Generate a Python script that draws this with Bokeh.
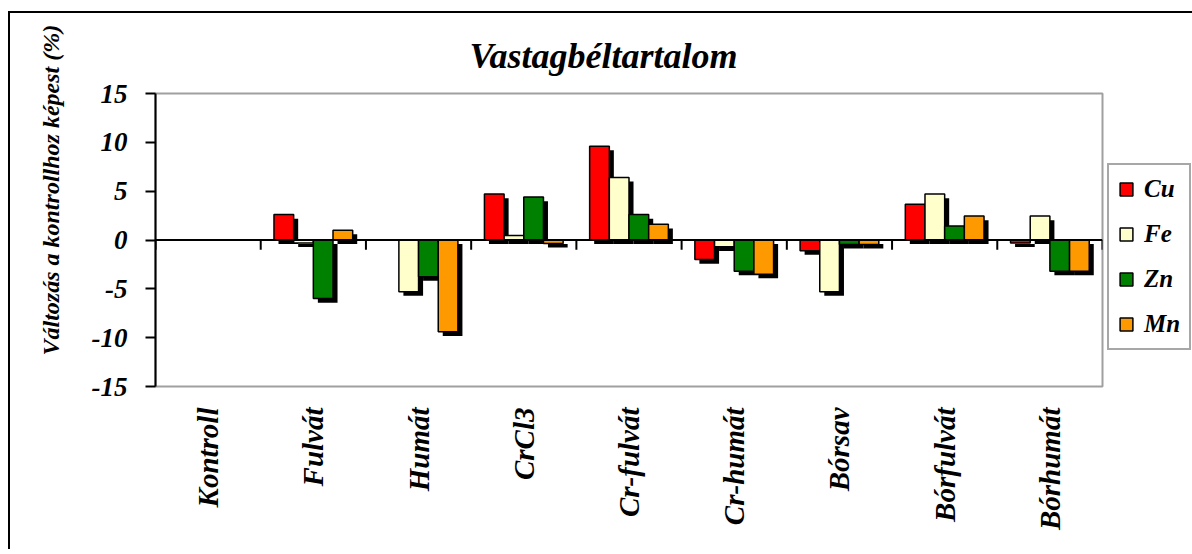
import math
from bokeh.plotting import figure
from bokeh.models import (Range1d, FixedTicker, Legend, LegendItem, Title,
                          Span, ColumnDataSource)
from bokeh.embed import file_html
from bokeh.resources import INLINE

# ---- data ----
categories = ["Kontroll", "Fulvát", "Humát", "CrCl3", "Cr-fulvát",
              "Cr-humát", "Bórsav", "Bórfulvát", "Bórhumát"]
series = ["Cu", "Fe", "Zn", "Mn"]
cu = [0, 2.6, 0, 4.7, 9.6, -2.0, -1.1, 3.65, -0.3]
fe = [0, -0.3, -5.3, 0.45, 6.4, -0.7, -5.3, 4.7, 2.45]
zn = [0, -6.0, -3.75, 4.4, 2.6, -3.2, -0.45, 1.43, -3.2]
mn = [0, 1.0, -9.4, -0.35, 1.6, -3.5, -0.45, 2.45, -3.2]
colors = ["#ff0000", "#ffffcc", "#008000", "#ff9900"]
y_ticks = [-15, -10, -5, 0, 5, 10, 15]
title_text = "Vastagbéltartalom"
y_label = "Változás a kontrollhoz képest (%)"

FONT = "Liberation Serif"

p = figure(frame_width=947, frame_height=293, output_backend="svg", toolbar_location=None,
           x_range=Range1d(0, len(categories)), y_range=Range1d(-15, 15),
           min_border_left=140, min_border_right=93, min_border_top=80,
           min_border_bottom=165)
p.background_fill_color = "white"
p.border_fill_color = "white"
p.xgrid.visible = False
p.ygrid.visible = False
p.outline_line_color = "#a0a0a0"
p.outline_line_width = 2
# chart-area border: only its top and left edges fall inside the view
p.styles = {"margin-left": "10px", "margin-top": "13px",
            "box-shadow": "-2px -2px 0px 0px black", "overflow": "hidden"}

# title
p.title.text = title_text
p.title.align = "left"
p.title.offset = 314
p.title.standoff = 26
p.title.text_font = FONT
p.title.text_font_style = "bold italic"
p.title.text_font_size = "36px"
p.title.text_color = "black"
try:
    p.title.padding = 5
    p.title.offset = 309
except Exception:
    pass

# x axis: labels only
p.xaxis.ticker = FixedTicker(ticks=[i + 0.5 for i in range(len(categories))])
p.xaxis.major_label_overrides = {i + 0.5: c for i, c in enumerate(categories)}
p.xaxis.major_label_orientation = math.pi / 2
p.xaxis.axis_line_color = None
p.xaxis.major_tick_line_color = None
p.xaxis.minor_tick_line_color = None
p.xaxis.major_tick_out = 0
p.xaxis.major_label_standoff = 21
p.xaxis.major_label_text_font = FONT
p.xaxis.major_label_text_font_style = "bold italic"
p.xaxis.major_label_text_font_size = "29px"
p.xaxis.major_label_text_color = "black"

# y axis
p.yaxis.ticker = FixedTicker(ticks=y_ticks)
p.yaxis.major_label_overrides = {t: str(t) for t in y_ticks}
p.yaxis.axis_line_color = "black"
p.yaxis.axis_line_width = 2
p.yaxis.major_tick_line_color = "black"
p.yaxis.major_tick_line_width = 2
p.yaxis.major_tick_out = 10
p.yaxis.major_tick_in = 0
p.yaxis.minor_tick_line_color = None
p.yaxis.major_label_standoff = 18
p.yaxis.major_label_text_font = FONT
p.yaxis.major_label_text_font_style = "bold italic"
p.yaxis.major_label_text_font_size = "27px"
p.yaxis.major_label_text_color = "black"

p.add_layout(Title(text=y_label, align="left", offset=31, standoff=50,
                   text_font=FONT, text_font_style="bold italic",
                   text_font_size="24px", text_color="black"), "left")

n = len(series)
bw = 0.187
dx = 0.043
dy = 0.42
vals = [cu, fe, zn, mn]

# shadows
for k in range(n):
    xs = [i + 0.5 + (k - (n - 1) / 2) * bw + dx for i in range(len(categories))]
    src = ColumnDataSource(dict(x=xs, top=[v - dy for v in vals[k]],
                                bottom=[-dy] * len(categories)))
    p.vbar(x="x", top="top", bottom="bottom", width=bw, source=src,
           fill_color="black", line_color=None)

# bars
bar_renderers = []
for k in range(n):
    xs = [i + 0.5 + (k - (n - 1) / 2) * bw for i in range(len(categories))]
    src = ColumnDataSource(dict(x=xs, top=vals[k]))
    r = p.vbar(x="x", top="top", bottom=0, width=bw, source=src,
               fill_color=colors[k], line_color="black", line_width=1.5)
    bar_renderers.append(r)

# zero line and category ticks
p.add_layout(Span(location=0, dimension="width", line_color="black", line_width=2))
bounds = list(range(len(categories) + 1))
p.segment(x0=bounds, x1=bounds, y0=[0] * len(bounds), y1=[-1.0] * len(bounds),
          line_color="black", line_width=2)

# legend (right side panel)
legend = Legend(items=[LegendItem(label=s, renderers=[r]) for s, r in zip(series, bar_renderers)],
                location=(5, 36), orientation="vertical")
legend.label_text_font = FONT
legend.label_text_font_style = "bold italic"
legend.label_text_font_size = "25px"
legend.label_text_color = "black"
legend.glyph_width = 16
legend.glyph_height = 16
legend.label_height = 30
legend.label_standoff = 10
legend.spacing = 15
legend.padding = 9
legend.margin = 0
legend.border_line_color = "#505050"
legend.border_line_width = 2
legend.background_fill_color = "white"
p.add_layout(legend, "right")

open("out.html", "w").write(file_html(p, INLINE))
